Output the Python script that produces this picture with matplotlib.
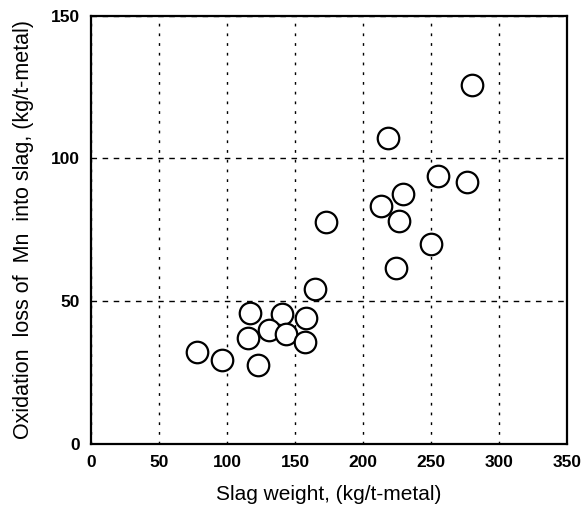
import matplotlib
matplotlib.use("Agg")
import matplotlib.pyplot as plt

# slag weight (kg/t-metal) vs Mn oxidation loss (kg/t-metal)
slag = [279.8, 218.0, 255.4, 276.4, 229.5, 213.1, 226.5, 172.8, 250.2, 224.1,
        165.0, 117.1, 140.5, 158.1, 130.7, 143.5, 115.3, 157.6, 77.9, 96.3, 122.9]
mn_loss = [125.8, 107.2, 93.7, 91.6, 87.4, 83.2, 78.0, 77.6, 70.2, 61.6,
           54.3, 46.0, 45.7, 44.1, 40.1, 38.5, 37.0, 35.7, 32.1, 29.4, 27.6]

xticks = [0, 50, 100, 150, 200, 250, 300, 350]
yticks = [0, 50, 100, 150]

plt.rcParams['font.family'] = ['Liberation Sans', 'DejaVu Sans']

fig = plt.figure(figsize=(5.84, 5.08), dpi=100)
ax = fig.add_axes([0.156, 0.126, 0.815, 0.843])

ax.scatter(slag, mn_loss, s=15.5**2, facecolors='white', edgecolors='black',
           linewidths=1.6, zorder=3)

ax.set_xlim(0, 350)
ax.set_ylim(0, 150)
ax.set_xticks(xticks)
ax.set_yticks(yticks)
ax.tick_params(length=0, labelsize=12.5, pad=8)
for lab in ax.get_xticklabels() + ax.get_yticklabels():
    lab.set_fontweight('bold')

ax.xaxis.grid(True, color='black', linestyle=(0, (2, 5)), linewidth=1.0)
ax.yaxis.grid(True, color='black', linestyle=(0, (4, 4)), linewidth=1.0)
ax.set_axisbelow(True)

for sp in ax.spines.values():
    sp.set_linewidth(1.6)

ax.set_xlabel("Slag weight, (kg/t-metal)", fontsize=15, labelpad=11)
ax.set_ylabel("Oxidation  loss of  Mn  into slag, (kg/t-metal)", fontsize=15.5, labelpad=12)

fig.savefig("out.png", dpi=100)
